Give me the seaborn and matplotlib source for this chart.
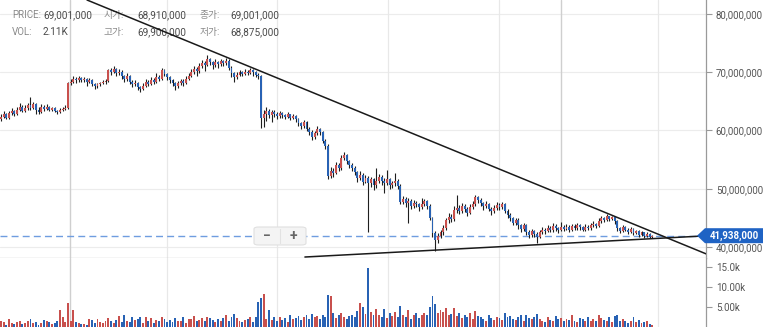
import matplotlib
matplotlib.use("Agg")
import matplotlib.pyplot as plt
from matplotlib.patches import FancyBboxPatch, Polygon
import numpy as np
import pandas as pd
import seaborn as sns

# ---- daily candles, prices in millions of KRW ----
opens = [
    62.0, 62.4, 62.8, 62.2, 63.0, 63.3, 62.9, 63.6, 64.0, 63.4,
    63.8, 64.3, 63.9, 64.5, 63.6, 63.2, 64.0, 63.7, 64.1, 63.6,
    63.8, 63.4, 63.2, 63.5, 63.7, 63.9, 68.1, 68.4, 68.9, 68.6,
    69.0, 68.7, 68.8, 68.4, 68.7, 68.0, 67.6, 67.9, 68.1, 68.3,
    68.5, 70.3, 70.0, 70.6, 69.8, 70.1, 69.3, 68.8, 69.4, 68.4,
    67.9, 68.2, 67.4, 67.1, 67.7, 68.3, 68.0, 68.7, 68.4, 69.2,
    68.9, 70.3, 69.7, 69.1, 68.6, 68.2, 67.6, 68.1, 68.5, 68.2,
    68.9, 69.4, 70.0, 70.6, 70.2, 71.0, 71.6, 71.3, 72.2, 71.7,
    71.2, 71.8, 71.4, 71.9, 71.5, 72.0, 70.8, 69.8, 69.2, 69.6,
    70.0, 69.7, 70.1, 69.9, 70.3, 70.0, 69.6, 69.3, 62.2, 62.8,
    63.4, 62.7, 63.2, 62.9, 62.5, 63.0, 62.6, 62.4, 62.8, 62.2,
    62.5, 61.9, 61.2, 60.8, 61.4, 60.3, 59.8, 58.9, 59.5, 60.3,
    59.7, 58.2, 57.4, 52.2, 53.1, 52.7, 54.0, 53.5, 55.2, 55.8,
    54.7, 54.1, 53.6, 52.8, 51.9, 52.4, 51.2, 51.8, 51.0, 51.6,
    50.7, 51.3, 52.1, 51.4, 51.0, 51.7, 50.6, 50.9, 51.3, 50.5,
    47.8, 48.3, 47.5, 47.9, 47.0, 47.6, 47.3, 46.8, 47.4, 47.9,
    47.1, 45.0, 42.4, 41.2, 41.9, 42.5, 43.2, 44.6, 45.2, 44.8,
    46.3, 46.7, 46.1, 47.0, 46.5, 45.9, 46.8, 47.3, 48.6, 48.1,
    47.5, 47.0, 47.4, 46.6, 46.1, 46.7, 47.2, 46.8, 47.3, 46.2,
    45.5, 44.9, 44.2, 44.6, 43.7, 43.1, 43.8, 42.6, 42.1, 42.7,
    42.3, 41.8, 42.5, 43.0, 42.7, 43.3, 42.9, 43.6, 43.2, 42.9,
    43.5, 43.1, 43.4, 43.0, 43.6, 43.3, 43.7, 43.4, 43.0, 43.5,
    43.2, 43.7, 44.0, 43.6, 44.5, 45.0, 44.7, 45.3, 44.8, 45.1,
    44.4, 43.2, 42.8, 43.4, 43.0, 42.6, 43.1, 42.4, 42.8, 42.1,
    42.5, 41.9, 42.3, 41.7,
]
closes = [
    62.4, 62.8, 62.2, 63.0, 63.3, 62.9, 63.6, 64.0, 63.4, 63.8,
    64.3, 63.9, 64.5, 63.6, 63.2, 64.0, 63.7, 64.1, 63.6, 63.8,
    63.4, 63.2, 63.5, 63.7, 63.9, 68.1, 68.4, 68.9, 68.6, 69.0,
    68.7, 68.8, 68.4, 68.7, 68.0, 67.6, 67.9, 68.1, 68.3, 68.5,
    70.3, 70.0, 70.6, 69.8, 70.1, 69.3, 68.8, 69.4, 68.4, 67.9,
    68.2, 67.4, 67.1, 67.7, 68.3, 68.0, 68.7, 68.4, 69.2, 68.9,
    70.3, 69.7, 69.1, 68.6, 68.2, 67.6, 68.1, 68.5, 68.2, 68.9,
    69.4, 70.0, 70.6, 70.2, 71.0, 71.6, 71.3, 72.2, 71.7, 71.2,
    71.8, 71.4, 71.9, 71.5, 72.0, 70.8, 69.8, 69.2, 69.6, 70.0,
    69.7, 70.1, 69.9, 70.3, 70.0, 69.6, 69.3, 62.2, 62.8, 63.4,
    62.7, 63.2, 62.9, 62.5, 63.0, 62.6, 62.4, 62.8, 62.2, 62.5,
    61.9, 61.2, 60.8, 61.4, 60.3, 59.8, 58.9, 59.5, 60.3, 59.7,
    58.2, 57.4, 52.2, 53.1, 52.7, 54.0, 53.5, 55.2, 55.8, 54.7,
    54.1, 53.6, 52.8, 51.9, 52.4, 51.2, 51.8, 51.0, 51.6, 50.7,
    51.3, 52.1, 51.4, 51.0, 51.7, 50.6, 50.9, 51.3, 50.5, 47.8,
    48.3, 47.5, 47.9, 47.0, 47.6, 47.3, 46.8, 47.4, 47.9, 47.1,
    45.0, 42.4, 41.2, 41.9, 42.5, 43.2, 44.6, 45.2, 44.8, 46.3,
    46.7, 46.1, 47.0, 46.5, 45.9, 46.8, 47.3, 48.6, 48.1, 47.5,
    47.0, 47.4, 46.6, 46.1, 46.7, 47.2, 46.8, 47.3, 46.2, 45.5,
    44.9, 44.2, 44.6, 43.7, 43.1, 43.8, 42.6, 42.1, 42.7, 42.3,
    41.8, 42.5, 43.0, 42.7, 43.3, 42.9, 43.6, 43.2, 42.9, 43.5,
    43.1, 43.4, 43.0, 43.6, 43.3, 43.7, 43.4, 43.0, 43.5, 43.2,
    43.7, 44.0, 43.6, 44.5, 45.0, 44.7, 45.3, 44.8, 45.1, 44.4,
    43.2, 42.8, 43.4, 43.0, 42.6, 43.1, 42.4, 42.8, 42.1, 42.5,
    41.9, 42.3, 41.7, 41.938,
]
highs = [
    62.9, 63.3, 63.0, 63.4, 63.9, 63.6, 64.1, 64.7, 64.3, 64.4,
    64.8, 65.7, 64.9, 64.7, 64.0, 64.6, 64.3, 64.5, 64.2, 64.1,
    64.0, 63.6, 63.8, 64.1, 64.3, 68.4, 68.9, 69.3, 69.1, 69.4,
    69.2, 69.1, 69.0, 69.0, 68.9, 68.2, 68.2, 68.4, 68.6, 68.8,
    70.6, 70.8, 71.0, 70.8, 70.5, 70.3, 69.6, 69.8, 69.6, 68.6,
    68.6, 68.4, 67.7, 68.1, 68.8, 68.6, 69.2, 69.0, 69.8, 69.5,
    70.7, 70.5, 69.9, 69.3, 68.8, 68.4, 68.5, 68.9, 68.8, 69.4,
    69.9, 70.5, 71.1, 70.9, 71.6, 72.1, 71.9, 72.9, 72.5, 72.0,
    72.2, 72.0, 72.3, 72.1, 72.4, 72.2, 71.0, 70.0, 70.0, 70.4,
    70.2, 70.5, 70.3, 70.7, 70.5, 70.2, 69.8, 69.5, 63.6, 64.0,
    63.7, 63.6, 63.5, 63.1, 63.4, 63.2, 62.9, 63.1, 62.9, 62.8,
    62.6, 62.1, 61.5, 61.8, 61.6, 60.6, 60.0, 59.9, 60.7, 60.5,
    59.9, 58.5, 57.6, 53.8, 53.5, 54.6, 54.4, 55.8, 56.3, 56.0,
    55.0, 54.4, 53.9, 53.1, 53.0, 52.7, 52.4, 52.2, 52.1, 51.9,
    53.6, 52.6, 52.4, 51.8, 53.2, 51.9, 51.4, 52.7, 51.6, 50.8,
    48.8, 48.6, 48.4, 48.2, 48.1, 47.9, 47.6, 48.4, 48.3, 48.1,
    47.3, 45.2, 42.7, 42.4, 43.0, 43.8, 45.0, 45.8, 45.6, 47.0,
    48.9, 47.2, 47.6, 47.3, 46.8, 47.3, 47.9, 48.9, 48.8, 48.4,
    47.8, 47.9, 47.6, 46.9, 47.2, 47.7, 47.5, 47.7, 47.5, 46.5,
    45.8, 45.2, 45.0, 44.9, 44.0, 44.1, 44.0, 42.9, 43.1, 42.9,
    42.5, 42.9, 43.5, 43.3, 43.8, 43.6, 44.1, 43.9, 43.5, 44.3,
    43.8, 43.9, 43.7, 44.0, 43.9, 44.1, 43.9, 43.6, 43.9, 43.8,
    44.1, 44.4, 44.2, 44.9, 45.4, 45.2, 45.6, 45.4, 45.4, 45.2,
    44.6, 43.5, 43.7, 43.6, 43.2, 43.4, 43.2, 43.0, 42.9, 42.7,
    42.6, 42.5, 42.4, 42.1,
]
lows = [
    61.7, 62.1, 61.9, 62.0, 62.7, 62.5, 62.7, 63.4, 63.1, 63.2,
    63.6, 63.5, 63.7, 62.9, 62.8, 63.0, 63.3, 63.5, 63.3, 63.4,
    63.1, 62.9, 63.0, 63.3, 63.5, 63.7, 67.8, 68.1, 68.2, 68.4,
    68.3, 68.4, 67.7, 68.1, 67.6, 67.2, 67.3, 67.6, 67.9, 68.0,
    68.3, 69.6, 69.8, 69.4, 69.5, 68.9, 68.4, 68.5, 68.0, 67.4,
    67.6, 67.0, 66.6, 66.9, 67.5, 67.6, 67.8, 68.0, 68.2, 68.5,
    68.7, 69.3, 68.7, 68.2, 67.7, 66.9, 67.3, 67.8, 67.6, 67.9,
    68.6, 69.1, 69.7, 69.4, 69.9, 70.7, 70.2, 71.0, 71.3, 70.6,
    70.9, 70.8, 71.1, 71.0, 71.2, 70.4, 69.2, 68.4, 68.9, 69.3,
    69.3, 69.5, 69.6, 69.7, 69.4, 69.2, 68.9, 60.4, 60.6, 61.7,
    62.2, 61.4, 62.4, 62.0, 62.2, 62.1, 61.9, 62.1, 61.8, 61.9,
    61.4, 60.8, 60.3, 60.5, 59.9, 59.2, 58.3, 58.6, 59.2, 59.3,
    57.8, 56.9, 51.6, 51.8, 52.1, 52.5, 53.0, 53.2, 54.9, 54.3,
    53.6, 53.1, 52.3, 51.2, 51.5, 50.6, 50.9, 42.6, 50.3, 49.8,
    50.2, 50.9, 50.7, 49.3, 50.6, 50.0, 50.2, 50.5, 49.9, 47.3,
    47.4, 46.8, 44.1, 46.5, 46.7, 46.8, 46.2, 46.5, 47.1, 46.6,
    44.6, 41.8, 39.3, 40.6, 41.5, 42.1, 42.9, 44.2, 44.3, 44.5,
    45.9, 45.6, 45.8, 46.0, 45.4, 45.6, 46.5, 47.0, 47.6, 47.0,
    46.4, 46.7, 46.1, 45.5, 45.8, 46.4, 46.3, 46.5, 45.8, 45.0,
    44.4, 43.7, 43.8, 43.1, 42.5, 42.8, 42.1, 41.5, 41.8, 41.7,
    40.7, 41.5, 42.2, 42.3, 42.5, 42.5, 42.6, 42.8, 42.4, 42.7,
    42.7, 42.9, 42.6, 42.8, 42.9, 43.0, 43.0, 42.7, 42.8, 42.9,
    43.0, 43.5, 43.3, 43.4, 44.2, 44.3, 44.5, 44.4, 44.6, 44.0,
    42.8, 42.4, 42.6, 42.7, 42.3, 42.4, 42.1, 42.2, 41.8, 41.9,
    41.6, 41.7, 41.5, 41.6,
]
# traded volume, thousands
volumes_k = [
    1.5, 1.2, 0.6, 1.9, 0.9, 0.7, 1.3, 1.6, 0.8, 1.1,
    1.4, 2.1, 0.9, 1.2, 0.6, 0.9, 1.7, 1.4, 1.2, 0.8,
    1.1, 1.5, 4.2, 2.5, 1.3, 6.0, 1.4, 4.2, 1.3, 1.1,
    0.8, 0.7, 0.5, 2.0, 1.7, 1.1, 2.1, 1.2, 0.9, 1.5,
    2.3, 1.4, 1.1, 1.8, 2.8, 1.3, 2.9, 1.6, 1.2, 2.5,
    1.7, 1.9, 2.4, 1.1, 2.4, 1.5, 2.3, 1.0, 1.8, 1.4,
    2.6, 1.9, 1.2, 1.7, 1.3, 2.2, 1.6, 1.4, 2.5, 1.1,
    1.9, 2.0, 2.7, 1.5, 1.8, 2.3, 1.4, 2.6, 2.2, 1.7,
    1.3, 2.0, 1.6, 2.2, 2.9, 1.5, 2.6, 3.2, 2.3, 1.4,
    1.2, 1.8, 2.0, 2.6, 1.3, 2.4, 6.2, 7.2, 8.2, 2.0,
    4.2, 1.8, 2.6, 1.5, 2.4, 1.7, 2.2, 1.2, 2.9, 1.9,
    2.3, 2.7, 1.8, 2.5, 3.0, 2.1, 3.3, 2.4, 2.8, 1.9,
    3.1, 2.6, 8.0, 7.7, 3.4, 2.2, 2.9, 3.6, 2.5, 2.0,
    2.7, 3.1, 2.4, 3.9, 6.0, 5.0, 3.2, 14.7, 3.8, 2.9,
    4.5, 3.0, 2.6, 4.5, 2.2, 3.4, 2.8, 3.8, 2.4, 5.2,
    3.1, 2.5, 4.2, 2.0, 2.9, 3.5, 2.2, 3.0, 3.6, 3.0,
    5.0, 7.7, 5.7, 3.4, 4.2, 3.8, 4.7, 2.9, 3.3, 4.7,
    2.8, 3.6, 2.2, 3.0, 2.5, 3.4, 2.1, 3.9, 2.7, 2.4,
    2.0, 1.6, 2.9, 2.3, 1.8, 2.6, 2.2, 1.7, 3.5, 2.4,
    2.8, 2.1, 1.7, 2.5, 2.9, 1.5, 3.0, 2.3, 1.9, 2.6,
    3.2, 2.0, 1.6, 1.3, 2.4, 1.8, 1.5, 2.8, 1.9, 2.2,
    1.4, 2.1, 1.8, 3.0, 1.6, 1.2, 2.3, 1.9, 1.5, 2.6,
    1.4, 1.9, 1.6, 2.9, 2.2, 1.7, 1.5, 2.5, 1.3, 2.7,
    2.9, 1.4, 2.0, 1.6, 1.1, 1.5, 2.4, 1.2, 1.7, 1.0,
    1.3, 1.6, 0.8, 0.5,
]

price_ticks = [40, 50, 60, 70, 80]          # millions KRW
volume_ticks = [5, 10, 15]                   # thousands
volume_tick_labels = ["5.00k", "10.00k", "15.0k"]

# month separators (candle positions) and the two period boundaries
month_lines = [61.9, 103.0, 144.4, 185.8, 245.2]
period_lines = [25.75, 209.0]

# trend lines as (candle index, price) anchors
resistance = [(32.1, 82.40), (262.3, 38.97)]
support = [(113.4, 38.28), (263.2, 41.92)]

# crosshair readout
info_row1 = [("PRICE:", "69,001,000"), ("시가:", "68,910,000"), ("종가:", "69,001,000")]
info_row2 = [("VOL:", "2.11K"), ("고가:", "69,900,000"), ("저가:", "68,875,000")]

UP = "#c8504d"
DOWN = "#2862b4"

df = pd.DataFrame({
    "idx": np.arange(len(closes)),
    "open": opens, "high": highs, "low": lows, "close": closes,
    "volume": volumes_k,
})
df["dir"] = np.where(df["close"] >= df["open"], "up", "down")

sns.set_theme(style="white")
plt.rcParams["font.family"] = ["Roboto", "Noto Sans CJK KR", "DejaVu Sans"]

W, H = 773, 327
fig = plt.figure(figsize=(W / 100, H / 100), dpi=100)
vol_h = 1 - 258 / H          # height share of the volume pane
right = 706 / W
ax_p = fig.add_axes([0, vol_h, right, 1 - vol_h])
ax_v = fig.add_axes([0, 0, right, vol_h])

xlim = (-0.37, 263.06)

# ---- grid ----
for v in price_ticks:
    ax_p.axhline(v, color="#ececec", lw=0.8, zorder=0)
for ax in (ax_p, ax_v):
    for x in month_lines:
        ax.axvline(x, color="#e8e8e8", lw=0.9, zorder=0)
    for x in period_lines:
        ax.axvline(x, color="#cfcfcf", lw=1.0, zorder=0)

# ---- candles ----
ax_p.vlines(df["idx"], df["low"], df["high"], color="#1e1e1e", lw=0.8, zorder=2)
body_lo = df[["open", "close"]].min(axis=1)
body_h = (df["close"] - df["open"]).abs().clip(lower=0.14)
ax_p.bar(df["idx"], body_h, bottom=body_lo, width=0.72,
         color=np.where(df["dir"] == "up", UP, DOWN), linewidth=0, zorder=3)

last_price = closes[-1]
ax_p.axhline(last_price, color="#6f9de0", lw=1.0, ls=(0, (5, 3)), zorder=1)

ax_p.axline(resistance[0], resistance[1], color="#1a1a1a", lw=1.1, zorder=4)
ax_p.plot([support[0][0], support[1][0]], [support[0][1], support[1][1]],
          color="#1a1a1a", lw=1.1, zorder=4)

ax_p.set_xlim(*xlim)
ax_p.set_ylim(38.11, 82.40)
ax_p.yaxis.tick_right()
ax_p.set_yticks(price_ticks)
ax_p.set_yticklabels([f"{int(v * 1_000_000):,}" for v in price_ticks])
ax_p.tick_params(axis="y", right=True, left=False, length=4, width=0.8,
                 color="#999999", labelsize=7, labelcolor="#555555", pad=3)
ax_p.tick_params(axis="x", bottom=False, labelbottom=False)
for s in ("top", "left"):
    ax_p.spines[s].set_visible(False)
ax_p.spines["right"].set_color("#9a9a9a")
ax_p.spines["right"].set_linewidth(0.9)
ax_p.spines["bottom"].set_color("#cccccc")
ax_p.spines["bottom"].set_linewidth(1.0)
ax_p.set_xlabel("")
ax_p.set_ylabel("")

# ---- volume pane ----
sns.barplot(data=df, x="idx", y="volume", hue="dir",
            palette={"up": UP, "down": DOWN}, native_scale=True, dodge=False,
            width=0.72, saturation=1, linewidth=0, errorbar=None,
            legend=False, ax=ax_v)
ax_v.set_xlim(*xlim)
ax_v.set_ylim(0, 17.25)
ax_v.yaxis.tick_right()
ax_v.set_yticks(volume_ticks)
ax_v.set_yticklabels(volume_tick_labels)
ax_v.tick_params(axis="y", right=True, left=False, length=4, width=0.8,
                 color="#999999", labelsize=7, labelcolor="#555555", pad=3)
ax_v.tick_params(axis="x", bottom=False, labelbottom=False)
for s in ("top", "left", "bottom"):
    ax_v.spines[s].set_visible(False)
ax_v.spines["right"].set_color("#9a9a9a")
ax_v.spines["right"].set_linewidth(0.9)
ax_v.set_xlabel("")
ax_v.set_ylabel("")

# ---- crosshair readout text ----
cols = [(12, 43), (104, 137), (200, 230)]
for row_y, row in ((15, info_row1), (32, info_row2)):
    for (xl, xv), (label, value) in zip(cols, row):
        ax_p.text(xl / W, 1 - row_y / H, label, transform=fig.transFigure,
                  fontsize=7, color="#8a8a8a", va="center", ha="left", zorder=1)
        ax_p.text(xv / W, 1 - row_y / H, value, transform=fig.transFigure,
                  fontsize=7.2, color="#4a4a4a", va="center", ha="left", zorder=1)

# ---- zoom buttons ----
btn = FancyBboxPatch((254 / W, 1 - 245 / H), 52 / W, 18 / H,
                     boxstyle="round,pad=0,rounding_size=0.006",
                     transform=fig.transFigure, fc="#f4f4f4", ec="#e0e0e0",
                     lw=0.8, zorder=5)
ax_p.add_artist(btn)
ax_p.plot([280 / W, 280 / W], [1 - 243 / H, 1 - 229 / H], transform=fig.transFigure,
          color="#e2e2e2", lw=0.8, zorder=6)
ax_p.text(267 / W, 1 - 236 / H, "−", transform=fig.transFigure, fontsize=10,
          color="#666666", ha="center", va="center", fontweight="bold", zorder=7)
ax_p.text(293 / W, 1 - 236 / H, "+", transform=fig.transFigure, fontsize=10,
          color="#666666", ha="center", va="center", fontweight="bold", zorder=7)

# ---- last price tag on the axis ----
y_disp = ax_p.transData.transform((0, last_price))[1]
y_fig = fig.transFigure.inverted().transform((0, y_disp))[1]
hh = 7.5 / H
tag = Polygon([(697 / W, y_fig), (705 / W, y_fig + hh), (763 / W, y_fig + hh),
               (763 / W, y_fig - hh), (705 / W, y_fig - hh)],
              closed=True, transform=fig.transFigure, fc="#1f63c4", ec="none")
fig.add_artist(tag)
fig.text(734 / W, y_fig, f"{int(round(last_price * 1_000_000)):,}",
         fontsize=7, color="white", fontweight="bold", ha="center", va="center")

fig.savefig("out.png", dpi=100)
